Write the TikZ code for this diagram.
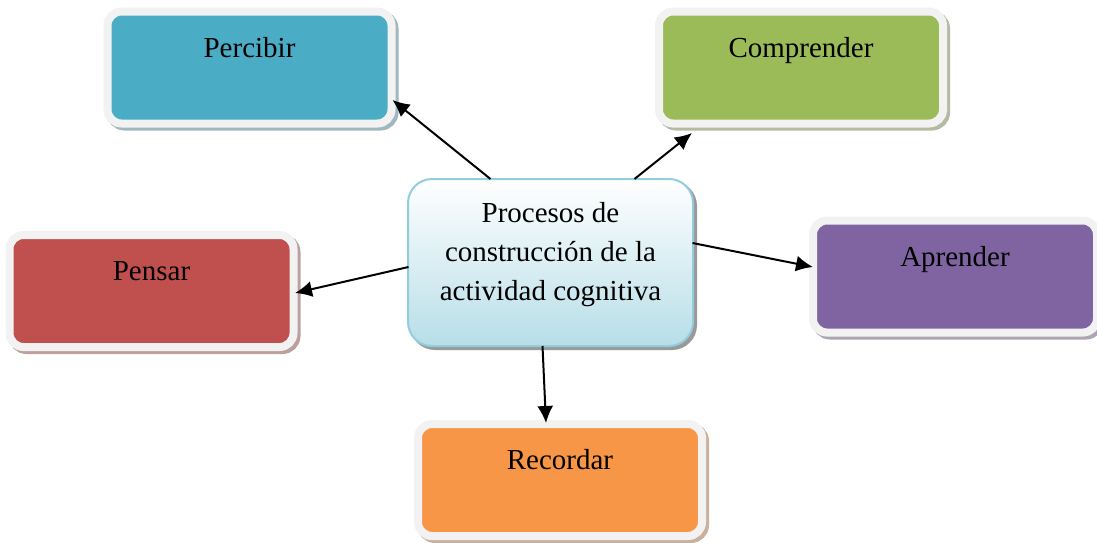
\documentclass[tikz,border=0pt]{standalone}
\usepackage{fontspec}
\setmainfont{Liberation Serif}
\usetikzlibrary{shadows,arrows.meta,calc}
\definecolor{cblue}{HTML}{4BACC6}
\definecolor{cgreen}{HTML}{9BBB59}
\definecolor{cred}{HTML}{C0504D}
\definecolor{cpurple}{HTML}{8064A2}
\definecolor{corange}{HTML}{F79646}
\definecolor{cframe}{HTML}{F2F2F2}
\definecolor{cline}{HTML}{93CDDD}
\definecolor{cbottom}{HTML}{B7DEE8}
\tikzset{
  box/.style={draw=cframe, line width=8pt, rounded corners=14pt, fill=#1,
    minimum width=284pt, minimum height=112pt, inner sep=0pt, outer sep=0pt,
    drop shadow={shadow xshift=3pt, shadow yshift=-3pt, fill=#1!55!black!45,
      draw=#1!55!black!45, line width=8pt, opacity=1}},
  centerbox/.style={draw=cline, line width=2pt, rounded corners=24pt,
    top color=white, bottom color=cbottom,
    minimum width=285pt, minimum height=167pt, inner sep=0pt, outer sep=0pt,
    drop shadow={shadow xshift=3pt, shadow yshift=-3pt, fill=black!40,
      draw=black!40, line width=2pt, opacity=1}},
  boxtext/.style={font=\fontsize{29}{39}\selectfont, anchor=base, inner sep=0pt},
  conn/.style={line width=2pt, -{Latex[length=17pt,width=16pt]}}
}
\begin{document}
\begin{tikzpicture}[x=1pt,y=-1pt]
\useasboundingbox (0,0) rectangle (1097,542);
\node[box=cblue] (per) at (249.5,67.5) {};
\node[box=cgreen] (com) at (801,67.5) {};
\node[box=cred] (pen) at (151.5,291) {};
\node[box=cpurple] (apr) at (955,276.5) {};
\node[box=corange] (rec) at (560,480) {};
\node[centerbox] (c) at (550.5,262.5) {};
\node[boxtext] (tper) at ($(per.north)+(0,45.5)$) {Percibir};
\node[boxtext] (tcom) at ($(com.north)+(0,45.5)$) {Comprender};
\node[boxtext] (tpen) at ($(pen.north)+(0,45.5)$) {Pensar};
\node[boxtext] (tapr) at ($(apr.north)+(0,45.5)$) {Aprender};
\node[boxtext] (trec) at ($(rec.north)+(0,45.5)$) {Recordar};
\node[font=\fontsize{29}{39}\selectfont, align=center, inner sep=0pt, anchor=center] (tc)
  at ($(c.center)+(0,-8)$) {Procesos de\\construcción de la\\actividad cognitiva};
\draw[conn] ($(c.north)+(-60,0)$) -- ($(per.east)+(1,32.5)$);
\draw[conn] ($(c.north)+(84,0)$) -- ($(com.south)+(-109,9.5)$);
\draw[conn] ($(c.west)+(0.5,4.5)$) -- ($(pen.east)+(1.5,2)$);
\draw[conn] ($(c.east)+(-0.5,-19.5)$) -- ($(apr.west)+(0,-9.5)$);
\draw[conn] ($(c.south)+(-8,0)$) -- ($(rec.north)+(-14,-1)$);
\end{tikzpicture}
\end{document}
